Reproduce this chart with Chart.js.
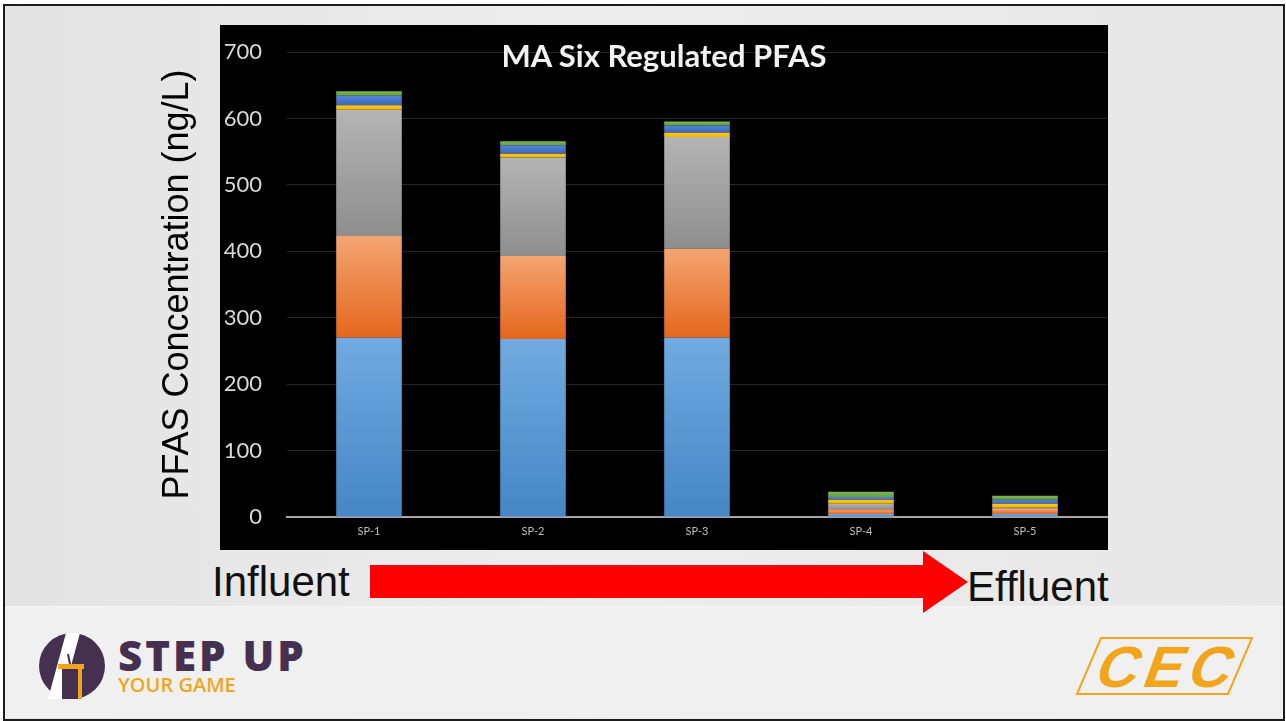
<!DOCTYPE html>
<html lang="en">
<head>
    <meta charset="UTF-8">
    <title>MA Six Regulated PFAS</title>
    <script src="https://cdn.jsdelivr.net/npm/chart.js"></script>
    <style>
        body { margin: 0; width: 1286px; height: 721px; overflow: hidden; position: relative; background: #fff; font-family: "Liberation Sans", Arial, sans-serif; }
        .abs { position: absolute; }
        .slide { left: 3px; top: 4px; width: 1278px; height: 713px; border: 2px solid #1c1c1c; background: linear-gradient(90deg, #e3e3e3 0%, #ededed 45%, #e7e7e7 100%); }
        .strip { left: 5px; top: 606px; width: 1278px; height: 111px; background: #eff0ef; border-top: 1px solid #f7f7f7; }
        .box { left: 220px; top: 25px; width: 888px; height: 525px; background: #000; }
        .wrap { left: 150px; top: 25px; width: 958px; height: 525px; }
        .title { left: 220px; top: 37px; width: 888px; text-align: center; font: bold 31px Lato, sans-serif; line-height: 36px; color: #f2f2f2; }
        .flow { font-size: 42px; line-height: 42px; color: #111; }
        .step { left: 118px; top: 630px; font: 800 42px "Open Sans", sans-serif; letter-spacing: 3px; color: #45304f; line-height: 50px; }
        .game { left: 118px; top: 672px; font: 600 20px "Open Sans", sans-serif; color: #f2a51c; line-height: 26px; }
    </style>
</head>
<body>
    <div class="abs slide"></div>
    <div class="abs strip"></div>
    <div class="abs box"></div>
    <div class="abs wrap"><canvas id="pfasChart"></canvas></div>
    <div class="abs title">MA Six Regulated PFAS</div>

    <div class="abs flow" style="left:212px; top:561px;">Influent</div>
    <div class="abs flow" style="left:967px; top:566px;">Effluent</div>
    <svg class="abs" style="left:370px; top:551px;" width="600" height="63">
        <polygon points="0,14 553,14 553,0 598,31 553,62 553,47 0,47" fill="#ff0000"/>
    </svg>

    <!-- logos -->
    <svg class="abs" style="left:36px; top:630px;" width="74" height="74">
        <circle cx="36" cy="36" r="33" fill="#45304f"/>
        <polygon points="30,3 44,3 26,69 12,69" fill="#ffffff"/>
        <rect x="22" y="34" width="26" height="5" fill="#f2a51c"/>
        <rect x="26" y="39" width="16" height="30" fill="#45304f"/>
        <rect x="42" y="39" width="4" height="30" fill="#f2a51c"/>
        <line x1="34" y1="34" x2="32" y2="24" stroke="#45304f" stroke-width="2"/>
    </svg>
    <div class="abs step">STEP UP</div>
    <div class="abs game">YOUR GAME</div>

    <svg class="abs" style="left:1070px; top:632px;" width="190" height="70">
        <polygon points="31,6 182,6 158,62 7,62" fill="none" stroke="#f2a51c" stroke-width="2"/>
        <text x="92" y="55" text-anchor="middle" transform="skewX(-20) translate(20,0)" font-family="Liberation Sans" font-weight="bold" font-size="58" letter-spacing="6" fill="#f2a51c">CEC</text>
    </svg>

    <script>
        // dados (ng/L)
        const categories = ['SP-1', 'SP-2', 'SP-3', 'SP-4', 'SP-5'];
        const pfos  = [270, 268, 270, 4.5, 4.5];
        const pfoa  = [153, 125, 134, 7, 7.5];
        const pfhxs = [190, 148, 168, 8.5, 2];
        const pfna  = [7, 6, 6.5, 6, 6];
        const pfhpa = [14, 12.5, 11, 4, 6];
        const pfda  = [7, 6, 6, 8, 6];
        const yTicks = [0, 100, 200, 300, 400, 500, 600, 700];

        // gradiente vertical por segmento (claro em cima, escuro embaixo)
        function grad(light, dark) {
            return function (c) {
                const chart = c.chart;
                if (c.type !== 'data' || !chart.chartArea || !chart.scales.y) return dark;
                const ds = chart.data.datasets;
                let start = 0;
                for (let i = 0; i < c.datasetIndex; i++) start += ds[i].data[c.dataIndex];
                const end = start + ds[c.datasetIndex].data[c.dataIndex];
                const y = chart.scales.y;
                const g = chart.ctx.createLinearGradient(0, y.getPixelForValue(end), 0, y.getPixelForValue(start));
                g.addColorStop(0, light);
                g.addColorStop(1, dark);
                return g;
            };
        }

        const series = [
            { label: 'PFOS',  data: pfos,  c: grad('#70aae0', '#4686c6') },
            { label: 'PFOA',  data: pfoa,  c: grad('#f4a572', '#e4661c') },
            { label: 'PFHxS', data: pfhxs, c: grad('#b4b4b4', '#8e8e8e') },
            { label: 'PFNA',  data: pfna,  c: grad('#ffc818', '#f0b400') },
            { label: 'PFHpA', data: pfhpa, c: grad('#5586d8', '#3a66b8') },
            { label: 'PFDA',  data: pfda,  c: grad('#7cb853', '#62a03c') }
        ];

        new Chart(document.getElementById('pfasChart'), {
            type: 'bar',
            data: {
                labels: categories,
                datasets: series.map(s => ({
                    label: s.label,
                    data: s.data,
                    backgroundColor: s.c,
                    borderWidth: 0,
                    barPercentage: 0.4,
                    categoryPercentage: 1.0
                }))
            },
            options: {
                responsive: true,
                maintainAspectRatio: false,
                animation: false,
                layout: { padding: { left: 0, right: 1, top: 27, bottom: 0 } },
                plugins: { legend: { display: false }, tooltip: { enabled: false } },
                scales: {
                    x: {
                        stacked: true,
                        grid: { display: false, drawTicks: false },
                        border: { color: '#a6a6a6', width: 2 },
                        ticks: { color: '#bfbfbf', font: { family: 'Lato', size: 11 }, padding: 8 },
                        afterFit: s => { s.height = 33; }
                    },
                    y: {
                        stacked: true,
                        min: 0,
                        max: 700,
                        afterBuildTicks: s => { s.ticks = yTicks.map(v => ({ value: v })); },
                        ticks: { color: '#d9d9d9', font: { family: 'Lato', size: 22 }, padding: 3 },
                        grid: { color: '#262626', drawTicks: true, tickLength: 22, tickColor: 'rgba(0,0,0,0)' },
                        border: { display: false },
                        title: {
                            display: true,
                            text: 'PFAS Concentration (ng/L)',
                            color: '#000',
                            font: { family: 'Liberation Sans', size: 36 },
                            padding: { top: 6, bottom: 0 }
                        },
                        afterFit: s => { s.width = 137; }
                    }
                }
            }
        });
    </script>
</body>
</html>
